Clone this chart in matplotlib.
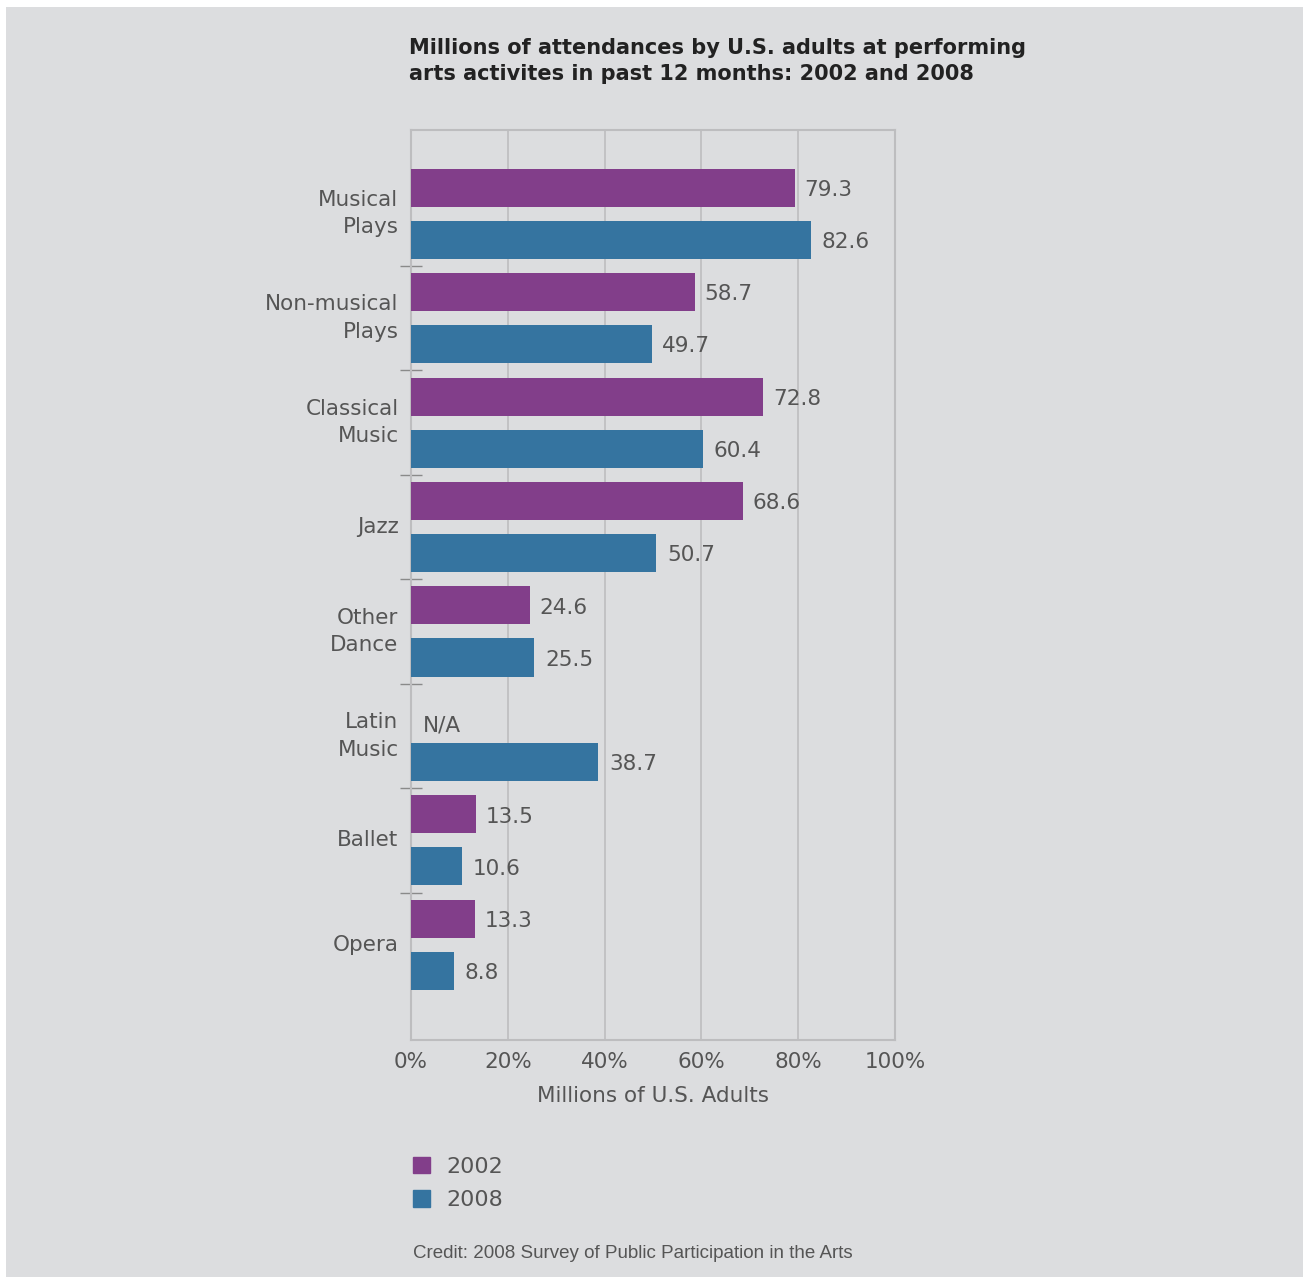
import matplotlib.pyplot as plt
from matplotlib.patches import Patch, Rectangle
from matplotlib.ticker import FixedLocator

plt.rcParams["font.family"] = ["DejaVu Sans"]

categories = ["Musical\nPlays", "Non-musical\nPlays", "Classical\nMusic", "Jazz",
              "Other\nDance", "Latin\nMusic", "Ballet", "Opera"]
values_2002 = [79.3, 58.7, 72.8, 68.6, 24.6, None, 13.5, 13.3]
values_2008 = [82.6, 49.7, 60.4, 50.7, 25.5, 38.7, 10.6, 8.8]
series_labels = ["2002", "2008"]
x_ticks = [0, 20, 40, 60, 80, 100]

BG = "#dcdddf"
PURPLE = "#823e8a"
BLUE = "#3574a0"
TEXT = "#555555"
GRID = "#bdbdbf"
FS = 15.5

fig = plt.figure(figsize=(13.08, 12.77), dpi=100)
fig.patch.set_facecolor("white")
fig.patches.append(Rectangle((6 / 1308, 0), 1297 / 1308, 1 - 7 / 1277,
                             transform=fig.transFigure, facecolor=BG,
                             edgecolor="none", zorder=-10))

ax = fig.add_axes([411 / 1308, 1 - 1040 / 1277, 484 / 1308, 910 / 1277])
ax.set_facecolor(BG)

pos = list(range(len(categories)))
off = 0.249
h = 0.364
y02 = [p - off for p, v in zip(pos, values_2002) if v is not None]
v02 = [v for v in values_2002 if v is not None]
y08 = [p + off for p in pos]

ax.barh(y02, v02, height=h, color=PURPLE, zorder=3)
ax.barh(y08, values_2008, height=h, color=BLUE, zorder=3)

# value labels next to the bars
for y, v in zip(y02, v02):
    ax.text(v + 2.0, y + 0.02, f"{v}", va="center", ha="left", fontsize=FS, color=TEXT)
for y, v in zip(y08, values_2008):
    ax.text(v + 2.2, y + 0.02, f"{v}", va="center", ha="left", fontsize=FS, color=TEXT)
for p, v in zip(pos, values_2002):
    if v is None:
        ax.text(2.4, p - off + 0.15, "N/A", va="center", ha="left", fontsize=FS, color=TEXT)

ax.set_xlim(0, 100)
ax.set_ylim(len(categories) - 0.09, -0.80)
ax.set_xticks(x_ticks)
ax.set_xticklabels([f"{t}%" for t in x_ticks], fontsize=FS, color=TEXT)
ax.set_yticks(pos)
ax.set_yticklabels(categories, fontsize=FS, color=TEXT, linespacing=1.45, va="center")
ax.yaxis.set_minor_locator(FixedLocator([p + 0.5 for p in pos[:-1]]))
ax.tick_params(axis="y", which="major", length=0, pad=9)
ax.tick_params(axis="y", which="minor", length=16, direction="inout", color="#8a8a8a", width=1)
ax.tick_params(axis="x", length=0, pad=9)
ax.grid(axis="x", color=GRID, linewidth=1.2, zorder=0)
for s in ax.spines.values():
    s.set_color(GRID)
    s.set_linewidth(1.5)

ax.set_xlabel("Millions of U.S. Adults", fontsize=FS, color=TEXT, labelpad=10)

fig.text(409 / 1308, 1 - 38 / 1277,
         "Millions of attendances by U.S. adults at performing\narts activites in past 12 months: 2002 and 2008",
         fontsize=15, fontweight="bold", color="#222222", va="top", ha="left", linespacing=1.38)

handles = [Patch(color=PURPLE), Patch(color=BLUE)]
fig.legend(handles, series_labels, loc="upper left",
           bbox_to_anchor=(413 / 1308, 1 - 1157 / 1277), frameon=False,
           fontsize=16, labelcolor=TEXT, handlelength=0.75, handleheight=0.75,
           handletextpad=0.75, labelspacing=0.6, borderpad=0, borderaxespad=0)

fig.text(413 / 1308, 1 - 1253 / 1277, "Credit: 2008 Survey of Public Participation in the Arts",
         fontsize=13.5, color=TEXT, va="center", ha="left", family="Liberation Sans")

fig.savefig("out.png", dpi=100, facecolor=fig.get_facecolor())
